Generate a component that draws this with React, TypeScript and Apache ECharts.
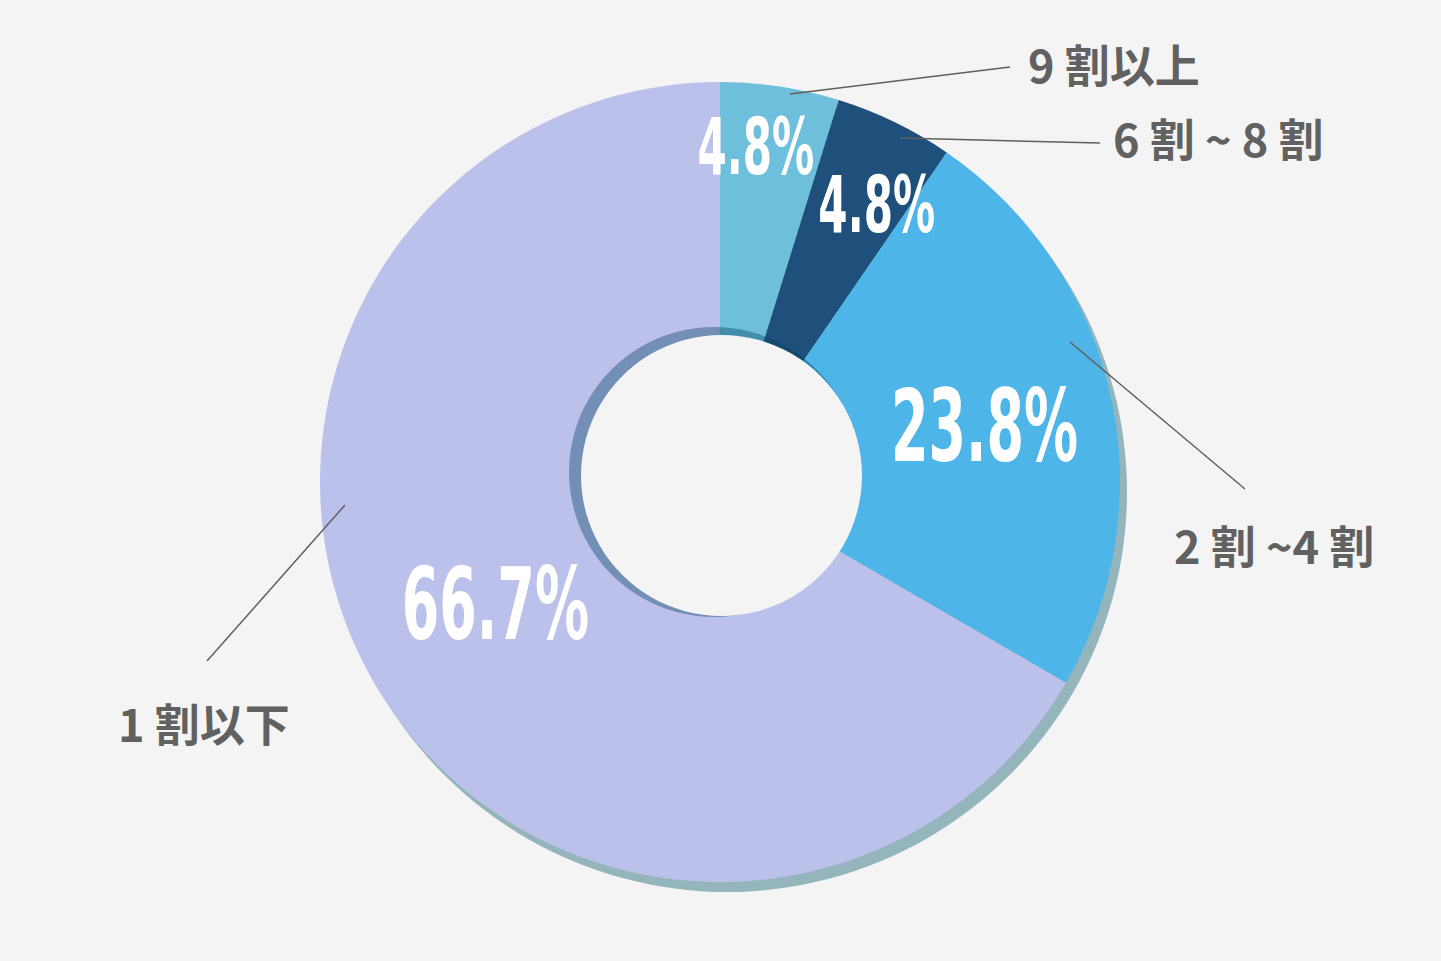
import React, { useEffect, useRef } from 'react'
import * as echarts from 'echarts'

// values (clockwise from 12 o'clock)
const categories = ['9 割以上', '6 割 ~ 8 割', '2 割 ~4 割', '1 割以下']
const shares = [4.8, 4.8, 23.8, 66.7]
const sliceColors = ['#6dbfdc', '#1f4f7b', '#4db5e8', '#bcc1ec']

// layout only
const CENTER = [720, 482]
const RADIUS = [130, 400]
const pctFontSize = [78, 78, 100, 100]
const pctShift = [[-4, -73], [41, -39], [6, 2], [5, -10]]
const outerLabelPos = [[1028, 63], [1113, 137], [1174, 544], [118, 722]]
const leaderStart = [[790, 94], [900, 138], [1070, 342], [345, 505]]
const leaderEnd = [[1010, 67], [1100, 143], [1245, 489], [207, 661]]

const BG = '#f4f4f4'
const total = shares.reduce((a, b) => a + b, 0)

export default function App() {
  const chartRef: any = useRef()

  useEffect(() => {
    document.body.style.margin = '0'
    document.body.style.background = BG
    const myChart = echarts.init(chartRef.current, null, { renderer: 'svg' })

    const plain = {
      silent: true,
      label: { show: false },
      labelLine: { show: false },
      emphasis: { disabled: true }
    }

    // percentage labels, placed in the middle of each slice (condensed type)
    const renderPct = (params: any) => {
      const i = params.dataIndex
      const before = shares.slice(0, i).reduce((a, b) => a + b, 0)
      const mid = ((before + shares[i] / 2) / total) * Math.PI * 2
      const r = (RADIUS[0] + RADIUS[1]) / 2
      return {
        type: 'text',
        x: CENTER[0] + r * Math.sin(mid) + pctShift[i][0],
        y: CENTER[1] - r * Math.cos(mid) + pctShift[i][1],
        scaleX: 0.6,
        silent: true,
        style: {
          text: shares[i].toFixed(1) + '%',
          fill: '#ffffff',
          fontSize: pctFontSize[i],
          fontFamily: '"DejaVu Sans Condensed", "DejaVu Sans", sans-serif',
          fontWeight: 'bold',
          align: 'center',
          verticalAlign: 'middle'
        }
      }
    }

    const option = {
      animation: false,
      backgroundColor: BG,
      series: [
        // drop shadow under the whole ring
        {
          ...plain,
          type: 'pie',
          z: 1,
          center: [CENTER[0] + 7, CENTER[1] + 10],
          radius: [0, RADIUS[1]],
          data: [{ value: 1, itemStyle: { color: '#93b5bb' } }]
        },
        {
          ...plain,
          type: 'pie',
          z: 2,
          center: CENTER,
          radius: RADIUS,
          startAngle: 90,
          clockwise: true,
          data: categories.map((name, i) => ({
            name,
            value: shares[i],
            itemStyle: { color: sliceColors[i] }
          }))
        },
        // inner shade round the hole
        {
          ...plain,
          type: 'pie',
          z: 3,
          center: [714, 472],
          radius: [0, 145],
          data: [{ value: 1, itemStyle: { color: 'rgba(0, 64, 91, 0.38)' } }]
        },
        // the hole
        {
          ...plain,
          type: 'pie',
          z: 4,
          center: [721.5, 475.5],
          radius: [0, 140.5],
          data: [{ value: 1, itemStyle: { color: BG } }]
        },
        // category names with leader lines
        {
          type: 'pie',
          z: 5,
          silent: true,
          center: CENTER,
          radius: RADIUS,
          startAngle: 90,
          clockwise: true,
          avoidLabelOverlap: false,
          emphasis: { disabled: true },
          itemStyle: { color: 'rgba(0,0,0,0)' },
          data: categories.map((name, i) => ({ name, value: shares[i] })),
          label: {
            show: true,
            position: 'outside',
            color: '#616161',
            fontFamily: '"Noto Sans CJK JP", "Noto Sans", sans-serif',
            fontWeight: 'bold',
            fontSize: 45,
            formatter: '{b}'
          },
          labelLine: { show: true, lineStyle: { color: '#5f5f5f', width: 1.5 } },
          labelLayout: (p: any) => {
            const i = p.dataIndex
            return {
              x: outerLabelPos[i][0],
              y: outerLabelPos[i][1],
              align: 'left',
              verticalAlign: 'middle',
              labelLinePoints: [leaderStart[i], leaderEnd[i]]
            }
          }
        },
        {
          type: 'custom',
          z: 6,
          silent: true,
          coordinateSystem: 'none',
          data: shares,
          renderItem: renderPct
        }
      ]
    }
    myChart.setOption(option as any)
    return () => {
      myChart.dispose()
    }
  }, [])

  return <div style={{ width: '1441px', height: '961px' }} ref={chartRef} />
}
